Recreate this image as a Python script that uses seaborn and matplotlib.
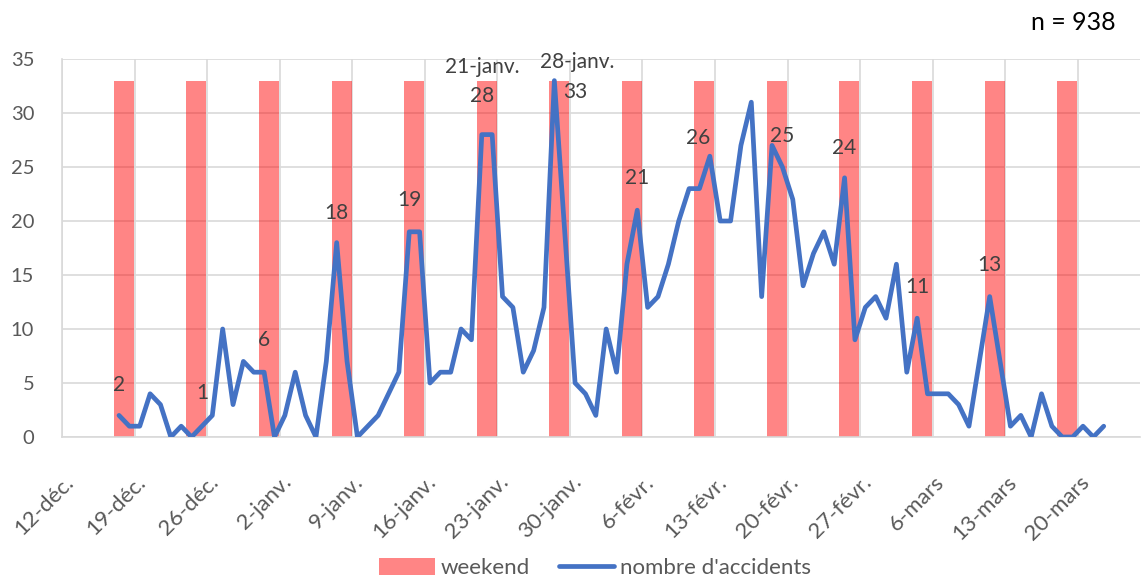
import matplotlib
matplotlib.use("Agg")
import matplotlib.pyplot as plt
import matplotlib.transforms as mtransforms
from matplotlib.patches import Patch
from matplotlib.lines import Line2D
import pandas as pd
import seaborn as sns

# --- DATA ---
FIRST_DAY = "2022-12-17"
accidents = [
    2, 1, 1, 4, 3, 0, 1, 0, 1, 2, 10, 3, 7, 6, 6,                     # 17-31 déc.
    0, 2, 6, 2, 0, 7, 18, 7, 0,                                       # 1-9 janv.
    1, 2, 4, 6, 19, 19, 5, 6, 6, 10, 9,                               # 10-20 janv.
    28, 28, 13, 12, 6, 8, 12, 33, 19, 5, 4,                           # 21-31 janv.
    2, 10, 6, 16, 21, 12, 13, 16, 20, 23, 23, 26, 20, 20,             # 1-14 févr.
    27, 31, 13, 27, 25, 22, 14, 17, 19, 16, 24, 9, 12, 13,            # 15-28 févr.
    11, 16, 6, 11, 4, 4, 4, 3, 1, 7, 13, 7, 1, 2, 0, 4, 1, 0, 0, 1, 0, 1,  # 1-22 mars
]
weekend_saturdays = [
    "2022-12-17", "2022-12-24", "2022-12-31", "2023-01-07", "2023-01-14",
    "2023-01-21", "2023-01-28", "2023-02-04", "2023-02-11", "2023-02-18",
    "2023-02-25", "2023-03-04", "2023-03-11", "2023-03-18",
]
weekend_values = [33, 33, 33, 33, 33, 33, 33, 33, 33, 33, 33, 33, 33, 33]
tick_labels = [
    "12-déc.", "19-déc.", "26-déc.", "2-janv.", "9-janv.", "16-janv.",
    "23-janv.", "30-janv.", "6-févr.", "13-févr.", "20-févr.", "27-févr.",
    "6-mars", "13-mars", "20-mars",
]
# labelled days: (date, dx px, dy px)
value_labels = [
    ("2022-12-17", 0, 30), ("2022-12-25", 0, 33), ("2022-12-31", 0, 32),
    ("2023-01-07", 0, 30), ("2023-01-14", 0, 32), ("2023-01-21", 0, 39),
    ("2023-01-28", 21, -11), ("2023-02-05", 0, 32), ("2023-02-12", -12, 18),
    ("2023-02-19", 0, 31), ("2023-02-25", 0, 30), ("2023-03-04", 0, 31),
    ("2023-03-11", 0, 32),
]
date_labels = [("2023-01-21", "21-janv.", 0, 68), ("2023-01-28", "28-janv.", 23, 19)]
N_TOTAL = 938

LINE_COLOR = "#4472C4"
BAR_COLOR = "#FF0000"
GRID_COLOR = "#D9D9D9"
TEXT_COLOR = "#404040"
TICK_COLOR = "#595959"

df = pd.DataFrame({
    "date": pd.date_range(FIRST_DAY, periods=len(accidents), freq="D") + pd.Timedelta(hours=12),
    "accidents": accidents,
})

sns.set_theme(style="white")
plt.rcParams["font.family"] = ["Lato", "DejaVu Sans"]

fig = plt.figure(figsize=(11.45, 5.79), dpi=100)
ax = fig.add_axes([62 / 1145, 1 - 437 / 579, (1140 - 62) / 1145, (437 - 59) / 579])

ax.bar(pd.to_datetime(weekend_saturdays), weekend_values, width=1.93, align="edge",
       color=BAR_COLOR, alpha=0.48, linewidth=0, zorder=2)
sns.lineplot(data=df, x="date", y="accidents", color=LINE_COLOR, linewidth=3.4,
             ax=ax, zorder=3, solid_joinstyle="round", solid_capstyle="round")

# data labels
lookup = dict(zip(df["date"].dt.strftime("%Y-%m-%d"), df["accidents"]))
for day, dx, dy in value_labels:
    x = pd.Timestamp(day) + pd.Timedelta(hours=12)
    ax.annotate(str(lookup[day]), (x, lookup[day]), xytext=(dx, dy),
                textcoords="offset pixels", ha="center", va="center",
                fontsize=15, color=TEXT_COLOR, zorder=4)
for day, txt, dx, dy in date_labels:
    x = pd.Timestamp(day) + pd.Timedelta(hours=12)
    ax.annotate(txt, (x, lookup[day]), xytext=(dx, dy),
                textcoords="offset pixels", ha="center", va="center",
                fontsize=15, color=TEXT_COLOR, zorder=4)

ax.set_xlim(pd.Timestamp("2022-12-12"), pd.Timestamp("2023-03-26"))
ax.set_ylim(0, 35)
ax.set_yticks(range(0, 36, 5))
ax.set_xticks(pd.date_range("2022-12-12", periods=len(tick_labels), freq="7D"))
ax.set_xticklabels(tick_labels, rotation=45, ha="right", va="top",
                   rotation_mode="anchor")
ax.set_xlabel("")
ax.set_ylabel("")

ax.grid(True, color=GRID_COLOR, linewidth=1.2, zorder=0)
ax.set_axisbelow(True)
for side in ["top", "right"]:
    ax.spines[side].set_visible(False)
for side in ["left", "bottom"]:
    ax.spines[side].set_color(GRID_COLOR)
    ax.spines[side].set_linewidth(1.2)

ax.tick_params(axis="y", length=0, pad=20, labelsize=14.5, labelcolor=TICK_COLOR)
ax.tick_params(axis="x", length=5, width=1.2, color=GRID_COLOR, pad=20,
               labelsize=16, labelcolor=TICK_COLOR)
shift = mtransforms.ScaledTranslation(1 / 100, 0, fig.dpi_scale_trans)
for lab in ax.get_xticklabels():
    lab.set_transform(lab.get_transform() + shift)

fig.text(1116 / 1145, 1 - 23 / 579, f"n = {N_TOTAL}", ha="right", va="center",
         fontsize=18, color="black")

handles = [Patch(facecolor=BAR_COLOR, alpha=0.48, linewidth=0),
           Line2D([0], [0], color=LINE_COLOR, linewidth=3.4, solid_capstyle="round")]
fig.legend(handles, ["weekend", "nombre d'accidents"], loc="center",
           bbox_to_anchor=(595 / 1145, 1 - 568 / 579), ncol=2, frameon=False,
           fontsize=16, labelcolor=TICK_COLOR, handlelength=2.5, handleheight=0.8,
           columnspacing=1.3, handletextpad=0.25)

fig.savefig("out.png", dpi=100)
